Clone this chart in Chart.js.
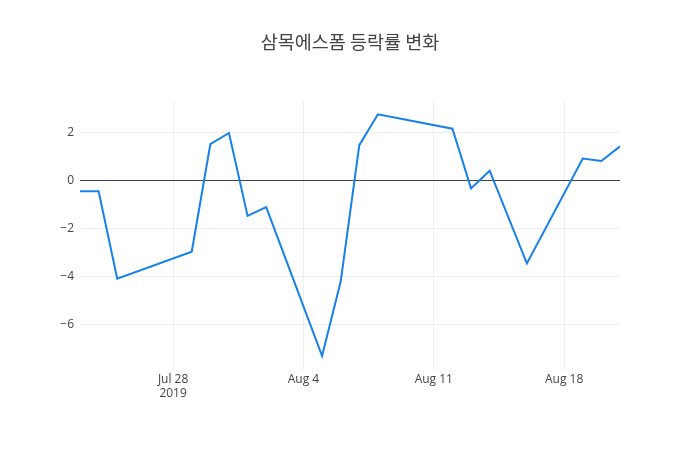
<!DOCTYPE html>
<html>
<head>
<meta charset="utf-8">
<script src="https://cdn.jsdelivr.net/npm/chart.js@4"></script>
<style>
  html, body { margin: 0; padding: 0; background: #fff; }
  #wrap { width: 700px; height: 450px; }
</style>
</head>
<body>
<div id="wrap"><canvas id="chart"></canvas></div>
<script>
// Data
const dates = [
  '2019-07-23', '2019-07-24', '2019-07-25', '2019-07-29', '2019-07-30',
  '2019-07-31', '2019-08-01', '2019-08-02', '2019-08-05', '2019-08-06',
  '2019-08-07', '2019-08-08', '2019-08-12', '2019-08-13', '2019-08-14',
  '2019-08-16', '2019-08-19', '2019-08-20', '2019-08-21'
];
const changeRates = [
  -0.44, -0.44, -4.10, -2.97, 1.53,
  2.00, -1.47, -1.10, -7.33, -4.22,
  1.49, 2.78, 2.18, -0.32, 0.42,
  -3.46, 0.93, 0.83, 1.44
];
const xTickDates = ['2019-07-28', '2019-08-04', '2019-08-11', '2019-08-18'];
const yTicks = [-6, -4, -2, 0, 2];

const DAY = 86400000;
const toDay = d => Date.parse(d + 'T00:00:00Z') / DAY;
const monthNames = ['Jan', 'Feb', 'Mar', 'Apr', 'May', 'Jun', 'Jul', 'Aug', 'Sep', 'Oct', 'Nov', 'Dec'];

function dayLabel(v, isFirst) {
  const d = new Date(v * DAY);
  const text = `${monthNames[d.getUTCMonth()]} ${d.getUTCDate()}`;
  return isFirst ? [text, String(d.getUTCFullYear())] : text;
}

const points = dates.map((d, i) => ({ x: toDay(d), y: changeRates[i] }));
const font = "'Open Sans', 'Noto Sans', sans-serif";

new Chart(document.getElementById('chart'), {
  type: 'line',
  data: {
    datasets: [{
      data: points,
      borderColor: 'rgb(22,128,235)',
      borderWidth: 2,
      pointRadius: 0,
      tension: 0,
      fill: false
    }]
  },
  options: {
    responsive: true,
    maintainAspectRatio: false,
    animation: false,
    layout: { padding: 0 },
    plugins: {
      legend: { display: false },
      tooltip: { enabled: false },
      title: {
        display: true,
        text: '삼목에스폼 등락률 변화',
        color: '#444',
        font: { family: "'Noto Sans CJK KR', " + font, size: 18.5, weight: 'normal' },
        padding: { top: 31, bottom: 48 }
      }
    },
    scales: {
      x: {
        type: 'linear',
        min: toDay(dates[0]),
        max: toDay(dates[dates.length - 1]),
        afterBuildTicks: scale => {
          scale.ticks = xTickDates.map(d => ({ value: toDay(d) }));
        },
        afterFit: scale => { scale.height = 80; },
        border: { display: false },
        grid: { color: '#eeeeee', drawTicks: false },
        ticks: {
          color: '#444',
          padding: 2,
          maxRotation: 0,
          font: { family: font, size: 12 },
          callback: (v, i) => dayLabel(v, i === 0)
        }
      },
      y: {
        min: -7.92,
        max: 3.33,
        afterBuildTicks: scale => {
          scale.ticks = yTicks.map(v => ({ value: v }));
        },
        afterFit: scale => { scale.width = 80; },
        border: { display: false },
        grid: {
          drawTicks: false,
          color: ctx => ctx.tick && ctx.tick.value === 0 ? '#444' : '#eeeeee',
          lineWidth: 1
        },
        ticks: {
          color: '#444',
          padding: 6,
          font: { family: font, size: 12 },
          callback: v => (v < 0 ? '\u2212' + Math.abs(v) : String(v))
        }
      },
      // empty right margin so the title centres on the whole canvas
      yRight: {
        position: 'right',
        display: true,
        afterFit: scale => { scale.width = 80; },
        border: { display: false },
        grid: { display: false },
        ticks: { display: false }
      }
    }
  }
});
</script>
</body>
</html>
